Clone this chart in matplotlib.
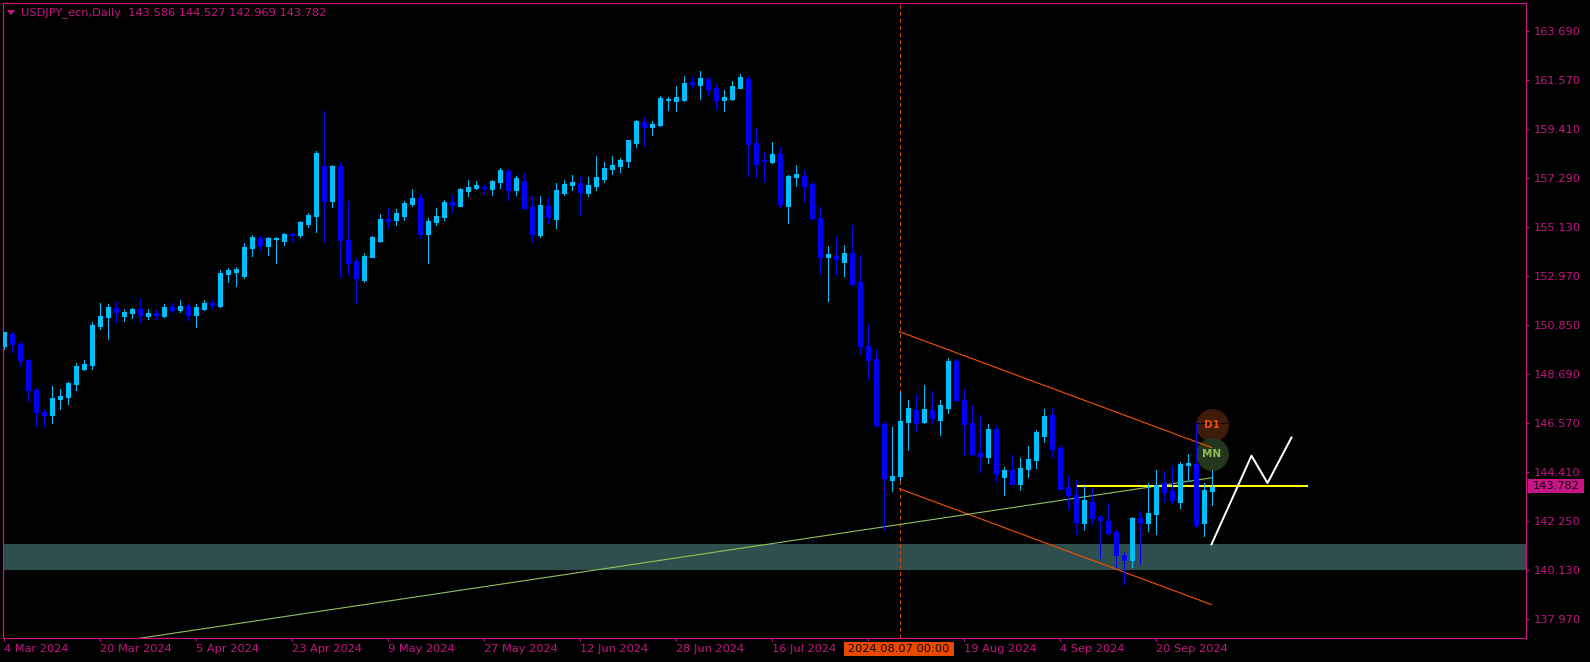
#!/usr/bin/env python3
"""USDJPY daily candles, MT4 style, with channel, trend line and zone."""
import numpy as np
import matplotlib
matplotlib.use('Agg')
import matplotlib.pyplot as plt
from matplotlib.patches import Rectangle, Polygon

opens = [149.96, 150.51, 150.07, 149.34, 148.05, 147.06, 146.93, 147.63, 147.74, 148.29,
         148.95, 149.12, 150.83, 151.23, 151.62, 151.27, 151.40, 151.58, 151.27, 151.40,
         151.27, 151.67, 151.54, 151.71, 151.32, 151.58, 151.85, 151.71, 153.12, 153.21,
         153.03, 154.26, 154.70, 154.35, 154.65, 154.56, 154.87, 154.83, 155.31, 155.66,
         157.86, 156.32, 157.86, 154.61, 153.69, 152.85, 153.86, 154.56, 155.53, 155.49,
         155.66, 156.19, 156.45, 154.88, 155.40, 155.62, 156.28, 156.10, 156.76, 156.89,
         156.95, 156.85, 157.16, 157.64, 156.81, 157.20, 156.06, 154.83, 156.10, 155.53,
         156.67, 157.03, 157.11, 156.67, 156.98, 157.29, 157.73, 157.86, 158.08, 158.87,
         159.79, 159.57, 159.66, 160.76, 160.71, 160.76, 161.54, 161.41, 161.68, 161.28,
         160.76, 160.80, 161.28, 161.68, 158.87, 158.12, 158.03, 158.38, 156.10, 157.38,
         157.42, 157.07, 155.58, 153.87, 153.91, 153.65, 154.04, 152.77, 149.96, 149.39,
         146.54, 144.08, 144.25, 146.62, 147.15, 146.62, 147.15, 146.71, 147.24, 149.30,
         147.59, 146.58, 145.26, 145.09, 146.32, 144.21, 144.52, 143.90, 144.56, 144.96,
         146.01, 146.93, 145.48, 143.77, 143.42, 142.19, 143.12, 142.46, 142.28, 141.80,
         140.79, 140.57, 142.41, 142.19, 142.59, 143.95, 143.60, 143.12, 144.74, 144.78,
         142.19, 143.586]
highs = [150.58, 150.58, 150.13, 149.37, 148.14, 147.18, 148.20, 148.07, 148.38, 149.20,
         149.34, 151.01, 151.85, 151.80, 151.89, 151.58, 151.62, 152.02, 151.58, 151.54,
         151.80, 151.85, 151.98, 151.80, 151.80, 151.98, 151.98, 153.29, 153.38, 153.42,
         154.48, 154.83, 154.78, 154.74, 154.74, 154.92, 154.92, 155.44, 155.79, 158.51,
         160.27, 157.90, 158.03, 156.32, 153.82, 154.04, 154.78, 155.75, 156.01, 155.97,
         156.32, 156.85, 156.63, 155.58, 156.02, 156.37, 156.59, 156.89, 157.25, 157.20,
         157.03, 157.25, 157.77, 157.73, 157.42, 157.55, 156.54, 156.54, 156.50, 157.11,
         157.25, 157.46, 157.42, 157.38, 158.30, 158.03, 158.30, 158.21, 159.00, 159.88,
         160.01, 159.83, 160.93, 160.89, 161.37, 161.81, 161.81, 162.03, 161.76, 161.46,
         161.19, 161.59, 161.90, 161.81, 159.53, 158.47, 158.91, 158.69, 157.46, 157.90,
         157.68, 157.16, 156.06, 154.35, 154.79, 154.39, 155.27, 153.95, 150.93, 149.83,
         146.62, 146.40, 147.94, 147.59, 147.85, 148.25, 147.98, 147.59, 149.43, 149.39,
         148.07, 147.37, 146.93, 146.54, 146.49, 144.65, 145.18, 145.04, 145.57, 146.27,
         147.20, 147.24, 145.57, 144.26, 144.08, 143.82, 143.73, 142.55, 143.07, 141.89,
         140.92, 142.46, 142.72, 143.95, 144.52, 144.47, 144.69, 144.87, 145.22, 146.57,
         143.95, 144.527]
lows = [149.82, 149.69, 149.08, 147.56, 146.46, 146.46, 146.58, 147.20, 147.41, 148.04,
        148.90, 148.95, 150.70, 150.26, 151.01, 151.05, 151.18, 151.01, 151.14, 151.14,
        151.23, 151.45, 151.45, 151.10, 150.79, 151.54, 151.58, 151.67, 152.77, 152.59,
        152.94, 153.91, 154.17, 153.95, 153.60, 154.39, 154.56, 154.74, 155.18, 154.96,
        154.52, 156.06, 152.98, 153.07, 151.85, 152.77, 153.86, 154.52, 155.14, 155.27,
        155.49, 156.10, 154.70, 153.60, 155.27, 155.49, 155.84, 156.10, 156.54, 156.85,
        156.67, 156.59, 156.89, 156.37, 156.59, 155.97, 154.52, 154.74, 155.36, 155.14,
        156.59, 156.81, 155.71, 156.54, 156.81, 157.16, 157.51, 157.60, 157.82, 158.69,
        158.74, 159.22, 159.61, 160.32, 160.27, 160.71, 161.28, 160.80, 160.97, 160.36,
        160.27, 160.76, 161.28, 157.42, 157.38, 157.16, 157.99, 156.06, 155.36, 156.98,
        156.28, 155.53, 153.12, 151.93, 153.08, 153.03, 152.64, 149.61, 148.51, 146.40,
        141.89, 143.60, 144.08, 145.40, 146.23, 146.58, 146.58, 146.05, 147.02, 147.55,
        145.18, 145.18, 144.43, 144.83, 144.04, 143.42, 143.90, 143.64, 144.21, 144.61,
        145.75, 145.09, 143.68, 142.81, 141.71, 141.89, 142.15, 140.66, 141.71, 140.26,
        139.52, 140.26, 140.39, 141.84, 141.71, 143.12, 143.07, 142.85, 144.04, 142.02,
        141.62, 142.969]
closes = [150.58, 150.07, 149.36, 148.04, 147.08, 146.93, 147.67, 147.76, 148.33, 149.08,
          149.17, 150.88, 151.27, 151.67, 151.45, 151.45, 151.58, 151.32, 151.40, 151.32,
          151.67, 151.54, 151.71, 151.32, 151.67, 151.85, 151.76, 153.16, 153.29, 153.34,
          154.30, 154.74, 154.39, 154.70, 154.70, 154.87, 154.83, 155.40, 155.70, 158.43,
          156.32, 157.86, 154.61, 153.60, 152.94, 153.91, 154.74, 155.53, 155.44, 155.79,
          156.24, 156.45, 154.88, 155.45, 155.66, 156.28, 156.13, 156.85, 156.94, 157.03,
          156.91, 157.20, 157.68, 156.81, 157.33, 156.02, 154.88, 156.15, 155.62, 156.81,
          157.07, 157.16, 156.72, 157.03, 157.38, 157.77, 157.90, 158.12, 159.00, 159.83,
          159.57, 159.70, 160.84, 160.80, 160.89, 161.50, 161.46, 161.72, 161.24, 160.76,
          160.89, 161.37, 161.76, 158.82, 157.95, 158.08, 158.38, 156.19, 157.42, 157.51,
          156.98, 155.58, 153.87, 154.00, 153.78, 154.04, 152.68, 149.96, 149.35, 146.49,
          144.17, 144.25, 146.67, 147.24, 146.58, 147.20, 146.80, 147.37, 149.30, 147.59,
          146.54, 145.22, 145.13, 146.32, 144.34, 144.52, 143.90, 144.61, 145.00, 146.19,
          146.89, 145.44, 143.68, 143.42, 142.24, 143.20, 142.41, 142.33, 141.75, 140.79,
          140.57, 142.41, 142.24, 142.63, 143.86, 143.55, 143.20, 144.78, 144.83, 142.11,
          143.64, 143.782]

# objects on the chart: (bar index, price)
channel_upper = ([112, 151], [150.59, 145.51])
channel_lower = ([112, 151], [143.70, 138.62])
trend_line = ([17, 151], [137.14, 144.18])
yellow_line = ([134, 163], [143.82, 143.82])
white_path = ([151, 156, 158, 161], [141.26, 145.15, 143.95, 145.95])
zone = (140.12, 141.27)
vline_bar = 112
circles = [('D1', 146.50, '#F0500A', '#3F1C0A'), ('MN', 145.21, '#8FBC5A', '#24361C')]
d1_dash = ([149.1, 152.9], [146.57, 146.57])
last_price = '143.782'
header = 'USDJPY_ecn,Daily  143.586 144.527 142.969 143.782'

ytick_labels = ['137.970', '140.130', '142.250', '144.410', '146.570', '148.690', '150.850',
                '152.970', '155.130', '157.290', '159.410', '161.570', '163.690']
xtick_bars = [0, 12, 24, 36, 48, 60, 72, 84, 96, 120, 132, 144]
xtick_labels = ['4 Mar 2024', '20 Mar 2024', '5 Apr 2024', '23 Apr 2024', '9 May 2024',
                '27 May 2024', '12 Jun 2024', '28 Jun 2024', '16 Jul 2024', '19 Aug 2024',
                '4 Sep 2024', '20 Sep 2024']
cursor_label = '2024.08.07 00:00'

W, H = 1590, 662
FG = '#C71585'
BULL = '#00BFFF'
BEAR = '#0000FF'
ORANGE = '#F0500A'
PX = 0.72  # one pixel in points at dpi 100
plt.rcParams['font.family'] = ['DejaVu Sans']
plt.rcParams['font.size'] = 8.2


def fig_box(x0, y0, x1, y1, color):
    # rectangle given in image pixels, for the labels outside the axes
    fig.add_artist(Rectangle((x0 / W, 1 - y1 / H), (x1 - x0) / W, (y1 - y0) / H,
                             transform=fig.transFigure, facecolor=color, edgecolor='none'))


fig = plt.figure(figsize=(W / 100, H / 100), dpi=100, facecolor='black')
ax = fig.add_axes([2.5 / W, 1 - 638.3 / H, (1526.3 - 2.5) / W, (638.3 - 2.5) / H], facecolor='black')
ax.set_xlim(-0.125, 190.35)
ax.set_ylim(137.14, 165.03)

ax.axhspan(zone[0], zone[1], color='#2F4F4F', lw=0, zorder=1)
ax.axhline(zone[0] - 0.01, color='black', lw=PX, ls=(0, (2, 2)), zorder=1.2, antialiased=False)

# circles sit behind the lines and candles, only their letters are on top
for name, price, txt_col, face in circles:
    ax.scatter([151], [price], s=560, color=face, lw=0, zorder=1.5)
    ax.text(151, price, name, color=txt_col, fontsize=7.5, fontweight='bold', ha='center', va='center', zorder=6)
ax.plot(*d1_dash, color='black', lw=PX, ls=(0, (3, 2)), zorder=1.6, antialiased=False)

ax.axvline(vline_bar, color='#D8480A', lw=PX, ls=(0, (3, 3)), zorder=2, antialiased=False)
ax.plot(*channel_upper, color=ORANGE, lw=PX * 1.15, zorder=2)
ax.plot(*channel_lower, color=ORANGE, lw=PX * 1.15, zorder=2)
ax.plot(*trend_line, color='#8FBC5A', lw=PX * 1.15, zorder=2)
ax.plot(*yellow_line, color='#FFFF00', lw=PX * 2, zorder=2, solid_capstyle='butt')
ax.plot(*white_path, color='white', lw=PX * 2, zorder=2)

o = np.array(opens)
c = np.array(closes)
bars = np.arange(len(o))
colors = [BULL if cl >= op else BEAR for op, cl in zip(o, c)]
ax.vlines(bars, lows, highs, colors=colors, lw=PX, zorder=3, antialiased=False)
ax.bar(bars, np.abs(c - o), bottom=np.minimum(o, c), width=4 / 8, color=colors, edgecolor=colors,
       lw=PX, zorder=4, antialiased=False)

for s in ax.spines.values():
    s.set_color(FG)
    s.set_linewidth(PX * 1.2)
ax.yaxis.tick_right()
ax.set_yticks(np.linspace(137.97, 163.77, len(ytick_labels)), ytick_labels)
ax.set_xticks(xtick_bars + [108], xtick_labels + [''])
ax.tick_params(axis='both', colors=FG, length=2.2, width=PX, labelcolor=FG)
ax.tick_params(axis='y', pad=3.5)
ax.tick_params(axis='x', pad=2.2)
for lab in ax.get_xticklabels():
    lab.set_horizontalalignment('left')

# last price tag, cursor date tag, chart header
fig_box(1528, 479, 1584, 493, FG)
fig.text(1533 / W, 1 - 486.3 / H, last_price, color='#1A0010', va='center', ha='left')
fig_box(844, 642, 954, 655.7, '#E64A00')
fig.text(899 / W, 1 - 649.3 / H, cursor_label, color='#1A0500', va='center', ha='center')
fig.add_artist(Polygon([(6.7 / W, 1 - 10 / H), (15.3 / W, 1 - 10 / H), (11 / W, 1 - 15 / H)],
                       transform=fig.transFigure, facecolor=FG, edgecolor='none'))
fig.text(21.3 / W, 1 - 12.7 / H, header, color=FG, va='center', ha='left')

plt.savefig('out.png', dpi=100, facecolor='black')
plt.close(fig)
